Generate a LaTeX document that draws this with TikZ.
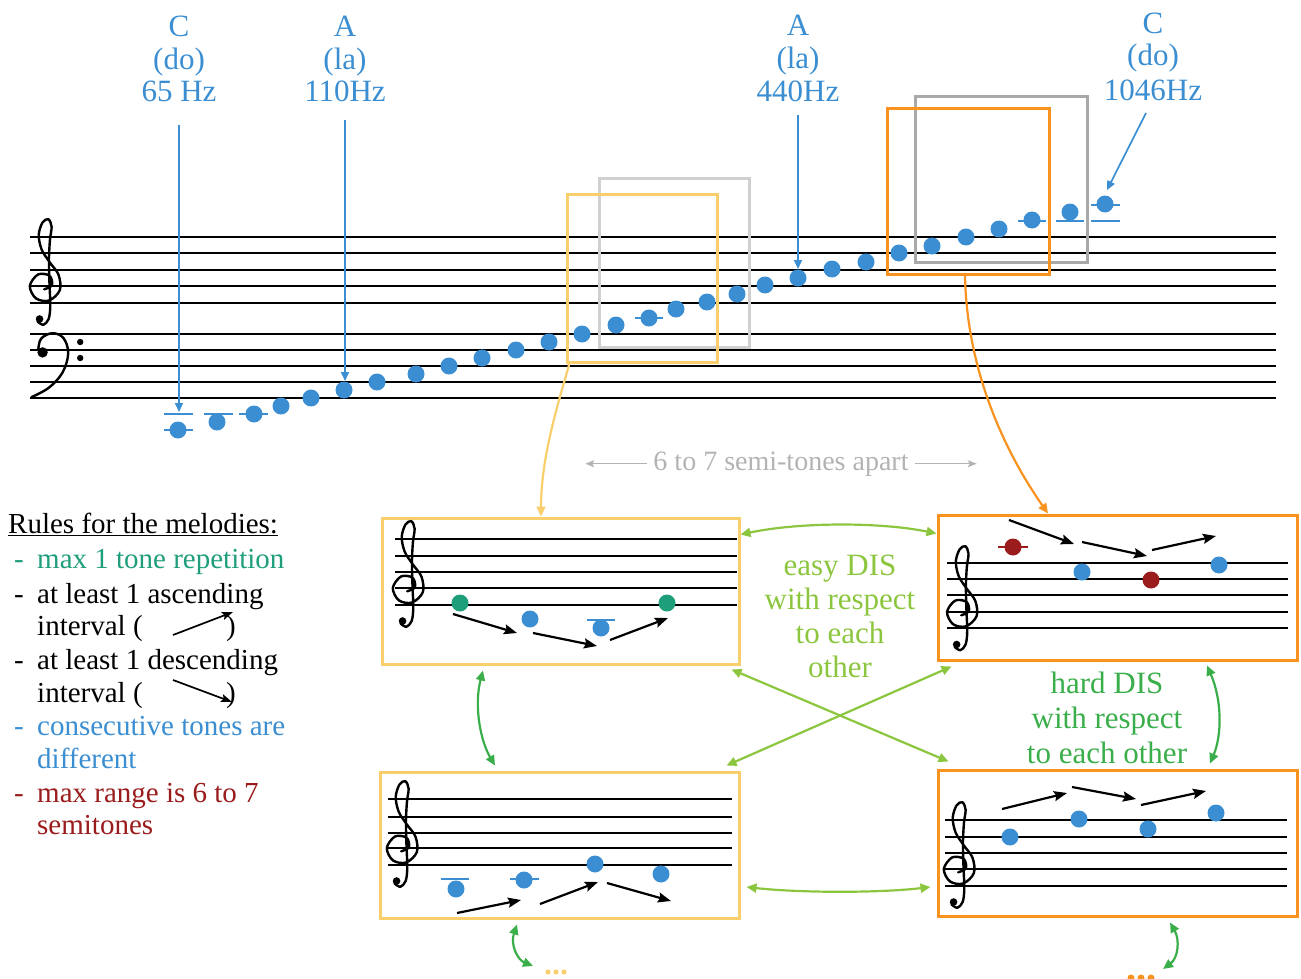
\documentclass[tikz,border=0pt]{standalone}
\usepackage{fontspec}
\setmainfont{Liberation Serif}
\usetikzlibrary{arrows.meta}
\definecolor{nblue}{HTML}{3A8ED1}
\definecolor{mteal}{HTML}{1F9E7C}
\definecolor{mred}{HTML}{9A1C1C}
\definecolor{morange}{HTML}{F7931E}
\definecolor{myellow}{HTML}{F9CE6C}
\definecolor{lgray}{HTML}{D0D0D0}
\definecolor{dgray}{HTML}{A9A9A9}
\definecolor{lgreen}{HTML}{8CC63F}
\definecolor{dgreen}{HTML}{3AAE4A}
\definecolor{txgray}{HTML}{B3B3B3}

\newcommand{\mytreble}[3]{%
 \begin{scope}[shift={(#1,#2)},x=#3pt,y=#3pt]
  \draw[line width=2.4pt, line cap=round, line join=round] plot[smooth,tension=0.55] coordinates {(-0.05,-0.2) (0.42,0.05) (0.28,0.62) (-0.42,0.7) (-0.92,0.0) (-0.55,-0.75) (0.25,-0.88) (0.9,-0.25) (0.82,0.68) (0.3,1.42) (-0.2,2.2) (-0.38,3.1) (-0.15,3.85) (0.2,4.05) (0.4,3.6) (0.3,2.8) (0.24,1.6) (0.27,0.2) (0.32,-1.2) (0.22,-2.0) (-0.1,-2.35) (-0.45,-2.15)};
  \fill (-0.33,-2.0) circle (3.8pt);
 \end{scope}}
\newcommand{\mybass}[3]{%
 \begin{scope}[shift={(#1,#2)},x=#3pt,y=#3pt]
  \draw[line width=2.4pt, line cap=round, line join=round] plot[smooth,tension=0.6] coordinates {(-0.42,0.0) (-0.25,0.7) (0.45,1.05) (1.15,0.75) (1.45,-0.2) (1.1,-1.4) (0.25,-2.35) (-0.85,-2.95)};
  \fill (-0.15,-0.15) circle (5.2pt);
  \fill (2.2,0.5) circle (3.2pt);
  \fill (2.2,-0.5) circle (3.2pt);
 \end{scope}}

\begin{document}
\begin{tikzpicture}[x=1pt,y=-1pt,
  staffl/.style={line width=2pt, black},
  ledgerl/.style={line width=2pt, nblue},
  bnote/.style={circle, inner sep=0pt, minimum size=17pt, fill=nblue},
  gnote/.style={bnote, fill=mteal},
  rnote/.style={bnote, fill=mred},
  ybox/.style={draw=myellow, line width=3pt, inner sep=0pt},
  obox/.style={draw=morange, line width=3pt, inner sep=0pt},
  lgbox/.style={draw=lgray, line width=3pt, inner sep=0pt},
  dgbox/.style={draw=dgray, line width=3pt, inner sep=0pt},
  blarrow/.style={draw=nblue, line width=1.7pt, -{Triangle[length=9pt,width=8pt]}},
  barrow/.style={line width=2.2pt, -{Stealth[length=13pt,width=10pt,inset=2pt]}},
  lgarrow/.style={draw=lgreen, line width=2.2pt, {Triangle[length=10pt,width=9pt]}-{Triangle[length=10pt,width=9pt]}},
  dgarrow/.style={draw=dgreen, line width=2.2pt, {Triangle[length=10pt,width=9pt]}-{Triangle[length=10pt,width=9pt]}},
  lbl/.style={text=nblue, anchor=base, inner sep=0pt, font=\fontsize{31}{33}\selectfont},
  ruletxt/.style={anchor=base west, inner sep=0pt, font=\fontsize{29}{33}\selectfont},
  easytxt/.style={text=lgreen, anchor=base, inner sep=0pt, font=\fontsize{31}{34}\selectfont},
  hardtxt/.style={text=dgreen, anchor=base, inner sep=0pt, font=\fontsize{31}{34}\selectfont},
  gtext/.style={text=txgray, anchor=base, inner sep=0pt, font=\fontsize{28}{33}\selectfont},
  garrow/.style={draw=txgray, line width=1.4pt, -{Stealth[length=9pt,width=7pt,inset=2pt]}},
  connY/.style={draw=myellow, line width=2.2pt, -{Triangle[length=10pt,width=9pt]}},
  connO/.style={draw=morange, line width=2.2pt, -{Triangle[length=10pt,width=9pt]}}
]
\useasboundingbox (0,0) rectangle (1301,979);

% ---------------- main grand staff ----------------
\foreach \yy in {237,253,270,286,303,334,350,366,382,398}
  \draw[staffl] (30,\yy) -- (1276,\yy);
\mytreble{45}{286}{16.5}
\mybass{45}{350}{16}

% boxes on the main staff
\node[lgbox, minimum width=150pt, minimum height=169pt] (lgb) at (674,262.5) {};
\node[ybox, minimum width=150pt, minimum height=168pt] (yb) at (642,278) {};
\node[dgbox, minimum width=172pt, minimum height=165pt] (dgb) at (1001,179.5) {};
\node[obox, minimum width=162pt, minimum height=165pt] (ob) at (968,191.5) {};

% ledger lines
\draw[ledgerl] (164,414) -- (193,414);
\draw[ledgerl] (164,430) -- (193,430);
\draw[ledgerl] (204,414) -- (233,414);
\draw[ledgerl] (239,414) -- (268,414);
\draw[ledgerl] (635,318) -- (663,318);
\draw[ledgerl] (1018,221) -- (1046,221);
\draw[ledgerl] (1056,221) -- (1084,221);
\draw[ledgerl] (1091,221) -- (1120,221);
\draw[ledgerl] (1091,205) -- (1120,205);

% notes
\foreach \nx/\ny [count=\i] in {178/430,217/422,254/414,281/406,311/398,344/390,377/382,416/374,449/366,482/358,516/350,549/342,582/334,616/325,649/318,676/309,707/302,737/294,765/285,798/278,832/269,866/262,899/253,932/246,966/237,999/229,1032/220,1070/212,1105/204}
  \node[bnote] (m\i) at (\nx,\ny) {};

% top labels
\node[lbl] (c1a) at (179,37) {C};
\node[lbl] (c1b) at (179,69.5) {(do)};
\node[lbl] (c1c) at (179,102) {65 Hz};
\node[lbl] (a1a) at (345,37) {A};
\node[lbl] (a1b) at (345,69.5) {(la)};
\node[lbl] (a1c) at (345,102) {110Hz};
\node[lbl] (a2a) at (798,36) {A};
\node[lbl] (a2b) at (798,68.5) {(la)};
\node[lbl] (a2c) at (798,101.5) {440Hz};
\node[lbl] (c2a) at (1153,33.5) {C};
\node[lbl] (c2b) at (1153,66) {(do)};
\node[lbl] (c2c) at (1153,100.5) {1046Hz};

\coordinate (c1e) at (179,412);
\coordinate (a1e) at (345,381);
\coordinate (a2e) at (798,269);
\coordinate (c2s) at (1146,113);
\coordinate (c2e) at (1107,190);
\draw[blarrow] ([yshift=-23pt]c1c.base) -- (c1e);
\draw[blarrow] ([yshift=-18pt]a1c.base) -- (a1e);
\draw[blarrow] ([yshift=-14pt]a2c.base) -- (a2e);
\draw[blarrow] (c2s) -- (c2e);

% semitone text
\node[gtext] (semi) at (781,470) {6 to 7 semi-tones apart};
\draw[garrow] ([xshift=-6pt]semi.west) -- ++(-62,0);
\draw[garrow] ([xshift=6pt]semi.east) -- ++(62,0);

% ---------------- lower boxes ----------------
\node[ybox, minimum width=357pt, minimum height=146pt] (tl) at (560.5,591) {};
\node[obox, minimum width=359pt, minimum height=145pt] (tr) at (1117.5,587.5) {};
\node[ybox, minimum width=359pt, minimum height=146pt] (bl) at (559.5,845) {};
\node[obox, minimum width=359pt, minimum height=146pt] (br) at (1117.5,843) {};

% connectors from main staff boxes
\draw[connY] ([xshift=4pt]yb.south west) .. controls (556,410) and (541,460) .. ([xshift=-19.5pt]tl.north);
\draw[connO] ([xshift=-3pt]ob.south) .. controls (967,380) and (1012,462) .. ([xshift=-69.5pt]tr.north);

% TL staff
\foreach \yy in {539,556,572,588,605}
  \draw[staffl] (395,\yy) -- (737,\yy);
\mytreble{408}{588}{16.5}
\draw[ledgerl] (587,620) -- (615,620);
\node[gnote] (t1) at (460,603) {};
\node[bnote] (t2) at (530,619) {};
\node[bnote] (t3) at (601,628) {};
\node[gnote] (t4) at (667,603) {};
\draw[barrow] (453,614) -- (517,633);
\draw[barrow] (533,633) -- (597,646);
\draw[barrow] (610,640) -- (668,618);

% TR staff
\foreach \yy in {563,579,595,612,628}
  \draw[staffl] (947,\yy) -- (1288,\yy);
\mytreble{962}{612}{16.25}
\draw[draw=mred, line width=2pt] (998,547) -- (1028,547);
\node[rnote] (u1) at (1013,547) {};
\node[bnote] (u2) at (1082,572) {};
\node[rnote] (u3) at (1151,580) {};
\node[bnote] (u4) at (1219,565) {};
\draw[barrow] (1009,520) -- (1074,544);
\draw[barrow] (1082,542) -- (1147,556);
\draw[barrow] (1152,550) -- (1216,536);

% BL staff
\foreach \yy in {799,817,833,848,865}
  \draw[staffl] (388,\yy) -- (732,\yy);
\mytreble{402}{848}{16.5}
\draw[ledgerl] (441,879) -- (469,879);
\draw[ledgerl] (510,879) -- (539,879);
\node[bnote] (v1) at (456,889) {};
\node[bnote] (v2) at (524,880) {};
\node[bnote] (v3) at (595,864) {};
\node[bnote] (v4) at (661,874) {};
\draw[barrow] (457,913) -- (521,900);
\draw[barrow] (540,904) -- (598,882);
\draw[barrow] (607,883) -- (671,901);

% BR staff
\foreach \yy in {820,837,853,869,886}
  \draw[staffl] (945,\yy) -- (1287,\yy);
\mytreble{959}{869}{16.5}
\node[bnote] (w1) at (1010,837) {};
\node[bnote] (w2) at (1079,819) {};
\node[bnote] (w3) at (1148,829) {};
\node[bnote] (w4) at (1216,813) {};
\draw[barrow] (1002,809) -- (1067,793);
\draw[barrow] (1072,787) -- (1136,799);
\draw[barrow] (1141,805) -- (1206,791);

% green relations
\draw[lgarrow] ([yshift=-18pt]tl.north east) .. controls (800,522) and (880,522) .. ([yshift=-20pt]tr.north west);
\draw[lgarrow] ([xshift=-9pt,yshift=-4pt]tl.south east) -- ([xshift=12pt,yshift=7pt]br.north west);
\draw[lgarrow] ([xshift=15pt,yshift=-5pt]tr.south west) -- ([xshift=-14pt,yshift=5pt]bl.north east);
\draw[dgarrow] ([xshift=-77.5pt,yshift=-5pt]tl.south) .. controls (474,705) and (480,740) .. ([xshift=-64.5pt,yshift=5pt]bl.north);
\draw[lgarrow] ([xshift=6pt,yshift=-42pt]bl.east) .. controls (800,893) and (880,893) .. ([xshift=-6pt,yshift=-44pt]br.west);
\draw[dgarrow] ([xshift=89.5pt,yshift=-4pt]tr.south) .. controls (1222,700) and (1222,735) .. ([xshift=92.5pt,yshift=5pt]br.north);

\coordinate (blmore) at (533,966);
\coordinate (brmore) at (1163,969);
\draw[dgarrow] ([xshift=-42.5pt,yshift=-5pt]bl.south) .. controls (510,945) and (518,960) .. (blmore);
\draw[dgarrow] ([xshift=52.5pt,yshift=-5pt]br.south) .. controls (1180,940) and (1178,958) .. (brmore);
\foreach \dx in {548,556,564} \fill[myellow] (\dx,972) circle (2.6pt);
\foreach \dx in {1131,1141,1151} \fill[morange] (\dx,978) circle (3.5pt);

% DIS texts
\node[easytxt] (e1) at (840,575) {easy DIS};
\node[easytxt] (e2) at (840,609) {with respect};
\node[easytxt] (e3) at (840,643) {to each};
\node[easytxt] (e4) at (840,677) {other};
\node[hardtxt] (h1) at (1107,693) {hard DIS};
\node[hardtxt] (h2) at (1107,728) {with respect};
\node[hardtxt] (h3) at (1107,763) {to each other};

% rules
\node[ruletxt] (r0) at (8,533) {\underline{Rules for the melodies:}};
\node[ruletxt, text=mteal] (r1d) at (14,568) {-};
\node[ruletxt, text=mteal] (r1) at (37,568) {max 1 tone repetition};
\node[ruletxt] (r2d) at (14,603) {-};
\node[ruletxt] (r2) at (37,603) {at least 1 ascending};
\node[ruletxt] (r3) at (37,635) {interval (};
\node[ruletxt] (r3p) at (226,635) {)};
\coordinate (asc1) at (173,635);
\coordinate (asc2) at (233,612);
\draw[line width=1.7pt, -{Stealth[length=11pt,width=8pt,inset=2pt]}] (asc1) -- (asc2);
\node[ruletxt] (r4d) at (14,669) {-};
\node[ruletxt] (r4) at (37,669) {at least 1 descending};
\node[ruletxt] (r5) at (37,702) {interval (};
\node[ruletxt] (r5p) at (226,702) {)};
\coordinate (des1) at (173,680);
\coordinate (des2) at (232,702);
\draw[line width=1.7pt, -{Stealth[length=11pt,width=8pt,inset=2pt]}] (des1) -- (des2);
\node[ruletxt, text=nblue] (r6d) at (14,735) {-};
\node[ruletxt, text=nblue] (r6) at (37,735) {consecutive tones are};
\node[ruletxt, text=nblue] (r7) at (37,768) {different};
\node[ruletxt, text=mred] (r8d) at (14,802) {-};
\node[ruletxt, text=mred] (r8) at (37,802) {max range is 6 to 7};
\node[ruletxt, text=mred] (r9) at (37,834) {semitones};
\end{tikzpicture}
\end{document}
